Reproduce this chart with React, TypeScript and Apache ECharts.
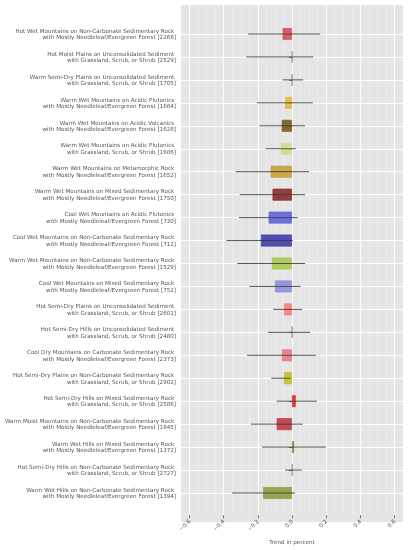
import { useRef, useEffect } from 'react';
import * as echarts from 'echarts';

const categories = [
    'Hot Wet Mountains on Non-Carbonate Sedimentary Rock \nwith Mostly Needleleaf/Evergreen Forest [2268]',
    'Hot Moist Plains on Unconsolidated Sediment \nwith Grassland, Scrub, or Shrub [2529]',
    'Warm Semi-Dry Plains on Unconsolidated Sediment \nwith Grassland, Scrub, or Shrub [1705]',
    'Warm Wet Mountains on Acidic Plutonics \nwith Mostly Needleleaf/Evergreen Forest [1664]',
    'Warm Wet Mountains on Acidic Volcanics \nwith Mostly Needleleaf/Evergreen Forest [1628]',
    'Warm Wet Mountains on Acidic Plutonics \nwith Grassland, Scrub, or Shrub [1606]',
    'Warm Wet Mountains on Metamorphic Rock \nwith Mostly Needleleaf/Evergreen Forest [1652]',
    'Warm Wet Mountains on Mixed Sedimentary Rock \nwith Mostly Needleleaf/Evergreen Forest [1750]',
    'Cool Wet Mountains on Acidic Plutonics \nwith Mostly Needleleaf/Evergreen Forest [730]',
    'Cool Wet Mountains on Non-Carbonate Sedimentary Rock \nwith Mostly Needleleaf/Evergreen Forest [712]',
    'Warm Wet Mountains on Non-Carbonate Sedimentary Rock \nwith Mostly Needleleaf/Evergreen Forest [1529]',
    'Cool Wet Mountains on Mixed Sedimentary Rock \nwith Mostly Needleleaf/Evergreen Forest [752]',
    'Hot Semi-Dry Plains on Unconsolidated Sediment \nwith Grassland, Scrub, or Shrub [2601]',
    'Hot Semi-Dry Hills on Unconsolidated Sediment \nwith Grassland, Scrub, or Shrub [2480]',
    'Cool Dry Mountains on Carbonate Sedimentary Rock \nwith Mostly Needleleaf/Evergreen Forest [2373]',
    'Hot Semi-Dry Plains on Non-Carbonate Sedimentary Rock \nwith Grassland, Scrub, or Shrub [2902]',
    'Hot Semi-Dry Hills on Mixed Sedimentary Rock \nwith Grassland, Scrub, or Shrub [2586]',
    'Warm Moist Mountains on Non-Carbonate Sedimentary Rock \nwith Mostly Needleleaf/Evergreen Forest [1845]',
    'Warm Wet Hills on Mixed Sedimentary Rock \nwith Mostly Needleleaf/Evergreen Forest [1372]',
    'Hot Semi-Dry Hills on Non-Carbonate Sedimentary Rock \nwith Grassland, Scrub, or Shrub [2727]',
    'Warm Wet Hills on Non-Carbonate Sedimentary Rock \nwith Mostly Needleleaf/Evergreen Forest [1394]',
];

// trend (bar length) and error-bar ends, in percent
const trend = [-0.055, 0.002, 0.002, -0.04, -0.06, -0.066, -0.125, -0.114, -0.137, -0.182, -0.118, -0.1, -0.047, 0.002, -0.059, -0.047, 0.022, -0.09, 0.012, 0.002, -0.169];
const lower = [-0.257, -0.267, -0.055, -0.204, -0.19, -0.153, -0.33, -0.306, -0.31, -0.384, -0.32, -0.25, -0.11, -0.14, -0.263, -0.12, -0.09, -0.24, -0.175, -0.04, -0.35];
const upper = [0.165, 0.125, 0.066, 0.122, 0.076, 0.022, 0.1, 0.076, 0.034, 0.004, 0.076, 0.05, 0.06, 0.106, 0.139, -0.01, 0.145, 0.063, 0.198, 0.057, 0.018];

const barColors = [
    '#d84a5e', '#8c8c8c', '#8c8c8c', '#e8b838', '#7a5a1c', '#d4dc8a', '#c8a038',
    '#8c2a2a', '#6262d8', '#3e3ea8', '#a8c850', '#8e8ede', '#f47c7c', '#8c8c8c',
    '#e87a86', '#c0c020', '#e02828', '#c03a44', '#6b8e2a', '#8c8c8c', '#8ea040',
];

const FONT = 'DejaVu Sans';
const TXT = '#555555';

const App: React.FC = () => {
    const chartRef = useRef<HTMLDivElement>(null);

    useEffect(() => {
        if (!chartRef.current) return;
        const chart = echarts.init(chartRef.current, undefined, { renderer: 'svg' });

        const option: any = {
            animation: false,
            textStyle: { fontFamily: FONT },
            grid: [
                // plot background
                { left: 181, right: 6, top: 5, bottom: 28, show: true, backgroundColor: '#e5e5e5', borderWidth: 0 },
                // x ticks / vertical grid
                { left: 189.5, right: 14.5, top: 5, bottom: 28 },
                // rows
                { left: 181, right: 6, top: 34, bottom: 57 },
            ],
            xAxis: [
                { gridIndex: 0, type: 'value', show: false, min: 0, max: 1 },
                {
                    gridIndex: 1,
                    type: 'value',
                    min: -0.6,
                    max: 0.6,
                    interval: 0.2,
                    axisLine: { show: false },
                    axisTick: { show: true, length: 3, lineStyle: { color: TXT, width: 0.8 } },
                    axisLabel: {
                        rotate: 45,
                        fontSize: 5.6,
                        color: TXT,
                        margin: 5,
                        formatter: (v: number) => v.toFixed(1).replace('-', '\u2212'),
                    },
                    splitLine: { show: true, lineStyle: { color: '#ffffff', width: 1 } },
                    minorTick: { show: false, splitNumber: 4 },
                    minorSplitLine: { show: true, lineStyle: { color: '#f2f2f2', width: 0.5 } },
                    name: 'Trend in percent',
                    nameLocation: 'middle',
                    nameGap: 20,
                    nameTextStyle: { fontSize: 5.6, color: TXT },
                },
                { gridIndex: 2, type: 'value', show: false, min: -0.65, max: 0.65 },
            ],
            yAxis: [
                { gridIndex: 0, type: 'value', show: false, min: 0, max: 1 },
                { gridIndex: 1, type: 'value', show: false, min: 0, max: 1 },
                {
                    gridIndex: 2,
                    type: 'category',
                    inverse: true,
                    boundaryGap: false,
                    data: categories,
                    axisLine: { show: false },
                    axisTick: { show: true, length: 3, lineStyle: { color: TXT, width: 0.8 } },
                    axisLabel: {
                        interval: 0,
                        fontSize: 5.6,
                        lineHeight: 6.6,
                        color: TXT,
                        align: 'right',
                        margin: 5,
                    },
                    splitLine: { show: true, lineStyle: { color: '#ffffff', width: 1 } },
                },
            ],
            series: [
                {
                    type: 'bar',
                    xAxisIndex: 2,
                    yAxisIndex: 2,
                    barWidth: 12,
                    clip: false,
                    data: trend.map((v, i) => ({
                        value: v,
                        itemStyle: {
                            color: barColors[i],
                            borderColor: barColors[i],
                            borderWidth: 0.8,
                            opacity: 0.9,
                        },
                    })),
                },
                {
                    type: 'custom',
                    xAxisIndex: 2,
                    yAxisIndex: 2,
                    clip: false,
                    z: 5,
                    encode: { x: [1, 2], y: 0 },
                    data: categories.map((_, i) => [i, lower[i], upper[i]]),
                    renderItem: (_params: any, api: any) => {
                        const idx = api.value(0);
                        const p1 = api.coord([api.value(1), idx]);
                        const p2 = api.coord([api.value(2), idx]);
                        return {
                            type: 'line',
                            shape: { x1: p1[0], y1: p1[1], x2: p2[0], y2: p2[1] },
                            style: { stroke: '#3a3a3a', lineWidth: 1, opacity: 0.85 },
                        };
                    },
                },
            ],
        };

        chart.setOption(option);

        return () => {
            chart.dispose();
        };
    }, []);

    return <div ref={chartRef} style={{ position: 'fixed', left: 0, top: 0, width: '409px', height: '550px' }} />;
};

export default App;
